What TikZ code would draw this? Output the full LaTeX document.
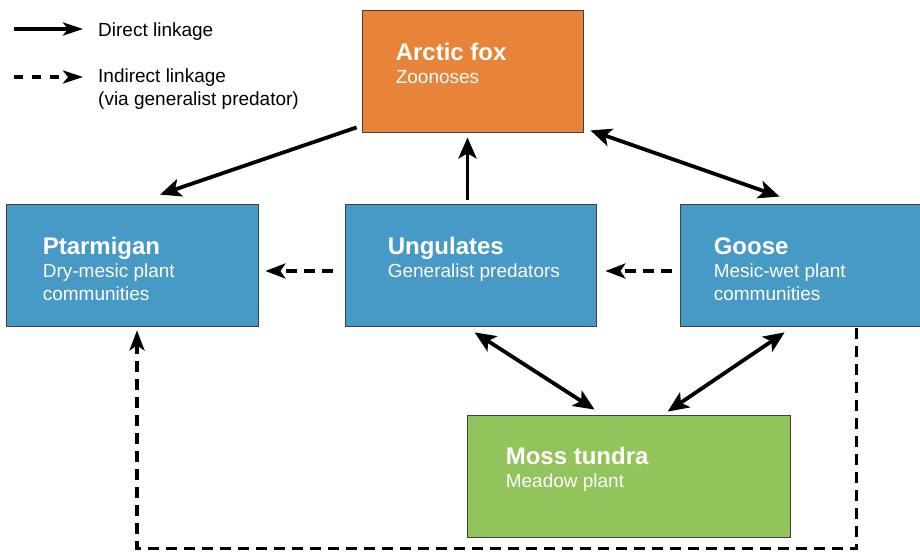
\documentclass[tikz,border=0pt]{standalone}
\usepackage{fontspec}
\setmainfont{Liberation Sans}
\usepackage{xcolor}
\usetikzlibrary{positioning, arrows.meta, calc}

\definecolor{foxorange}{HTML}{E8833A}
\definecolor{herbblue}{HTML}{4799C6}
\definecolor{mossgreen}{HTML}{93C35B}

\newcommand{\boxtitle}[1]{{\fontsize{24}{23}\selectfont\bfseries\rule{0pt}{18pt}#1}}
\newcommand{\legstrut}{\rule{0pt}{15pt}}

\begin{document}
\begin{tikzpicture}[x=1pt, y=-1pt,
	box/.style={draw=black!75, line width=0.8pt, minimum width=#1, minimum height=122pt, inner sep=0pt},
	boxtext/.style={anchor=north west, align=left, text=white, inner sep=0pt, font=\fontsize{19}{23}\selectfont},
	legendtext/.style={anchor=north west, align=left, inner sep=0pt, font=\fontsize{19}{23}\selectfont},
	link/.style={line width=3.8pt, -{Stealth[length=21pt, width=18pt, inset=5pt]}},
	mutual/.style={line width=3.8pt, {Stealth[length=21pt, width=18pt, inset=5pt]}-{Stealth[length=21pt, width=18pt, inset=5pt]}},
	indirect/.style={line width=3.3pt, dash pattern=on 11pt off 7pt, -{Stealth[length=20pt, width=15pt, inset=5pt]}}]
	
	\path[use as bounding box, clip] (0,0) rectangle (920,551);
	
	% Leyenda
	\node[legendtext] (legdirect) at (98,21) {\legstrut Direct linkage};
	\node[legendtext] (legindirect) at (98,67) {\legstrut Indirect linkage\\(via generalist predator)};
	\draw[link, -{Stealth[length=20pt, width=13pt, inset=5pt]}] ($(legdirect.north west)+(-84,8)$) -- ($(legdirect.north west)+(-15,8)$);
	\draw[indirect, dash pattern=on 9pt off 9pt, -{Stealth[length=20pt, width=13pt, inset=5pt]}] ($(legindirect.north west)+(-84,10)$) -- ($(legindirect.north west)+(-15,10)$);
	
	% Cajas
	\node[box=221pt, fill=foxorange] (fox) at (472.5,71) {};
	\node[box=252pt, fill=herbblue] (ptar) at (132,265) {};
	\node[box=251pt, fill=herbblue] (ung) at (470.5,265) {};
	\node[box=244pt, fill=herbblue] (goose) at (802,265) {};
	\node[box=323pt, fill=mossgreen] (moss) at (628.5,476) {};
	
	% Textos
	\node[boxtext] (foxtxt) at ($(fox.north west)+(34,33)$) {\boxtitle{Arctic fox}\\Zoonoses};
	\node[boxtext] (ptartxt) at ($(ptar.north west)+(37,33)$) {\boxtitle{Ptarmigan}\\Dry-mesic plant\\communities};
	\node[boxtext] (ungtxt) at ($(ung.north west)+(43,33)$) {\boxtitle{Ungulates}\\Generalist predators};
	\node[boxtext] (goosetxt) at ($(goose.north west)+(34,33)$) {\boxtitle{Goose}\\Mesic-wet plant\\communities};
	\node[boxtext] (mosstxt) at ($(moss.north west)+(39,32)$) {\boxtitle{Moss tundra}\\Meadow plant};
	
	% Enlaces directos
	\draw[link] ($(fox.south west)+(-5,-5)$) -- ($(ptar.north)+(28,-9)$);
	\draw[link] ($(ung.north)+(-3,-4)$) -- ($(fox.south)+(-5,5)$);
	\draw[mutual] ($(fox.south east)+(7,-2)$) -- ($(goose.north west)+(100,-7)$);
	\draw[mutual] ($(ung.south west)+(130,6)$) -- ($(moss.north west)+(128,-5)$);
	\draw[mutual] ($(goose.south west)+(105,6)$) -- ($(moss.north west)+(201,-3)$);
	
	% Enlaces indirectos
	\draw[indirect] ($(ung.west)+(-12,6)$) -- ($(ptar.east)+(7,6)$);
	\draw[indirect] ($(goose.west)+(-8,6)$) -- ($(ung.east)+(9,6)$);
	\draw[indirect] ($(goose.south west)+(177,2)$) -- ++(0,220) -| ($(ptar.south)+(5,4)$);
\end{tikzpicture}
\end{document}
